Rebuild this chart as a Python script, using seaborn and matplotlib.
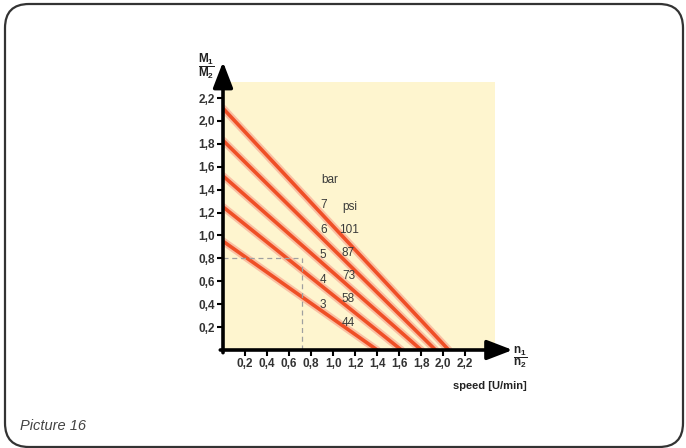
"""
Torque ratio vs. speed ratio for several supply pressures (Picture 16).
"""
import numpy as np
import pandas as pd
import matplotlib
matplotlib.use("Agg")
import matplotlib.pyplot as plt
from matplotlib.patches import FancyBboxPatch
import seaborn as sns

# Data
bar_values = [3, 4, 5, 6, 7]
psi_values = [44, 58, 73, 87, 101]
# where each pressure line meets the axes
speed_intercepts = [1.40, 1.62, 1.80, 1.93, 2.05]    # n1/n2 at M1/M2 = 0
torque_intercepts = [0.95, 1.25, 1.52, 1.83, 2.11]   # M1/M2 at n1/n2 = 0
x_ticks = [0.2, 0.4, 0.6, 0.8, 1.0, 1.2, 1.4, 1.6, 1.8, 2.0, 2.2]
y_ticks = [0.2, 0.4, 0.6, 0.8, 1.0, 1.2, 1.4, 1.6, 1.8, 2.0, 2.2]
marked_point = (0.72, 0.8)

sns.set_style("white")
plt.rcParams['font.family'] = ['Liberation Sans', 'DejaVu Sans']
plt.rcParams['mathtext.fontset'] = 'custom'
plt.rcParams['mathtext.rm'] = 'Liberation Sans'
plt.rcParams['mathtext.bf'] = 'Liberation Sans:bold'

rows = []
for b, sx, ty in zip(bar_values, speed_intercepts, torque_intercepts):
    rows.append({'bar': b, 'speed': 0.0, 'torque': ty})
    rows.append({'bar': b, 'speed': sx, 'torque': 0.0})
df = pd.DataFrame(rows)

W, H = 686, 448
fig = plt.figure(figsize=(W / 100, H / 100), dpi=100)

# frame around the picture (pixel coords, y up)
bg = fig.add_axes([0, 0, 1, 1])
bg.set_xlim(0, W)
bg.set_ylim(0, H)
bg.axis('off')
bg.add_patch(FancyBboxPatch((5, 1), 678, 443, boxstyle="round,pad=0,rounding_size=24",
                            fill=False, edgecolor='#333333', lw=1.6, clip_on=False))
bg.text(20, H - 426, 'Picture 16', fontsize=10.5, style='italic', color='#444444', va='center')

ax = fig.add_axes([223 / W, 1 - 350 / H, 272 / W, 268 / H])
ax.set_facecolor('#fef5cf')
ax.set_xlim(0, 2.47)
ax.set_ylim(0, 2.34)

# glow under the lines, then the lines
sns.lineplot(data=df, x='speed', y='torque', units='bar', estimator=None,
             color='#f9c0a4', lw=5.5, ax=ax, legend=False)
sns.lineplot(data=df, x='speed', y='torque', units='bar', estimator=None,
             color='#ef4f26', lw=2.6, ax=ax, legend=False)

mx, my = marked_point
ax.plot([0, mx], [my, my], ls=(0, (4, 3)), color='#a0a0a0', lw=0.9)
ax.plot([mx, mx], [0, my], ls=(0, (4, 3)), color='#a0a0a0', lw=0.9)

# pressure labels
txt = dict(fontsize=8.5, color='#3a3a3a', ha='center', va='center')
ax.text(0.97, 1.48, 'bar', **txt)
ax.text(1.15, 1.25, 'psi', **txt)
for i, (b, p) in enumerate(zip(bar_values, psi_values)):
    ax.text(0.91, 0.39 + 0.218 * i, str(b), **txt)
    ax.text(1.14, 0.24 + 0.202 * i, str(p), **txt)

for s in ax.spines.values():
    s.set_visible(False)
ax.set_xticks(x_ticks)
ax.set_yticks(y_ticks)
fmt = lambda v: f'{v:.1f}'.replace('.', ',')
ax.set_xticklabels([fmt(v) for v in x_ticks])
ax.set_yticklabels([fmt(v) for v in y_ticks])
ax.tick_params(axis='both', length=4, width=1.5, color='black', direction='out',
               labelsize=8.5, labelcolor='#333333', pad=2, bottom=True, left=True)
for lab in ax.get_xticklabels() + ax.get_yticklabels():
    lab.set_fontweight('bold')
ax.set_xlabel('')
ax.set_ylabel('')

# axis arrows
arrow = dict(arrowstyle='-|>,head_width=0.5,head_length=1.3', lw=2.6, color='black',
             shrinkA=0, shrinkB=0, mutation_scale=12)
ax.annotate('', xy=(0, 1.075), xytext=(0, -0.01), xycoords='axes fraction',
            arrowprops=arrow, annotation_clip=False)
ax.annotate('', xy=(1.065, 0), xytext=(-0.01, 0), xycoords='axes fraction',
            arrowprops=arrow, annotation_clip=False)

fig.text(206 / W, 1 - 66 / H, r'$\dfrac{\mathbf{M_1}}{\mathbf{M_2}}$', fontsize=8.5,
         color='#222222', ha='center', va='center')
fig.text(520 / W, 1 - 357 / H, r'$\dfrac{\mathbf{n_1}}{\mathbf{n_2}}$', fontsize=8.5,
         color='#222222', ha='center', va='center')
fig.text(527 / W, 1 - 386 / H, 'speed [U/min]', fontsize=8, fontweight='bold',
         color='#222222', ha='right', va='center')

fig.savefig('out.png', dpi=100)
